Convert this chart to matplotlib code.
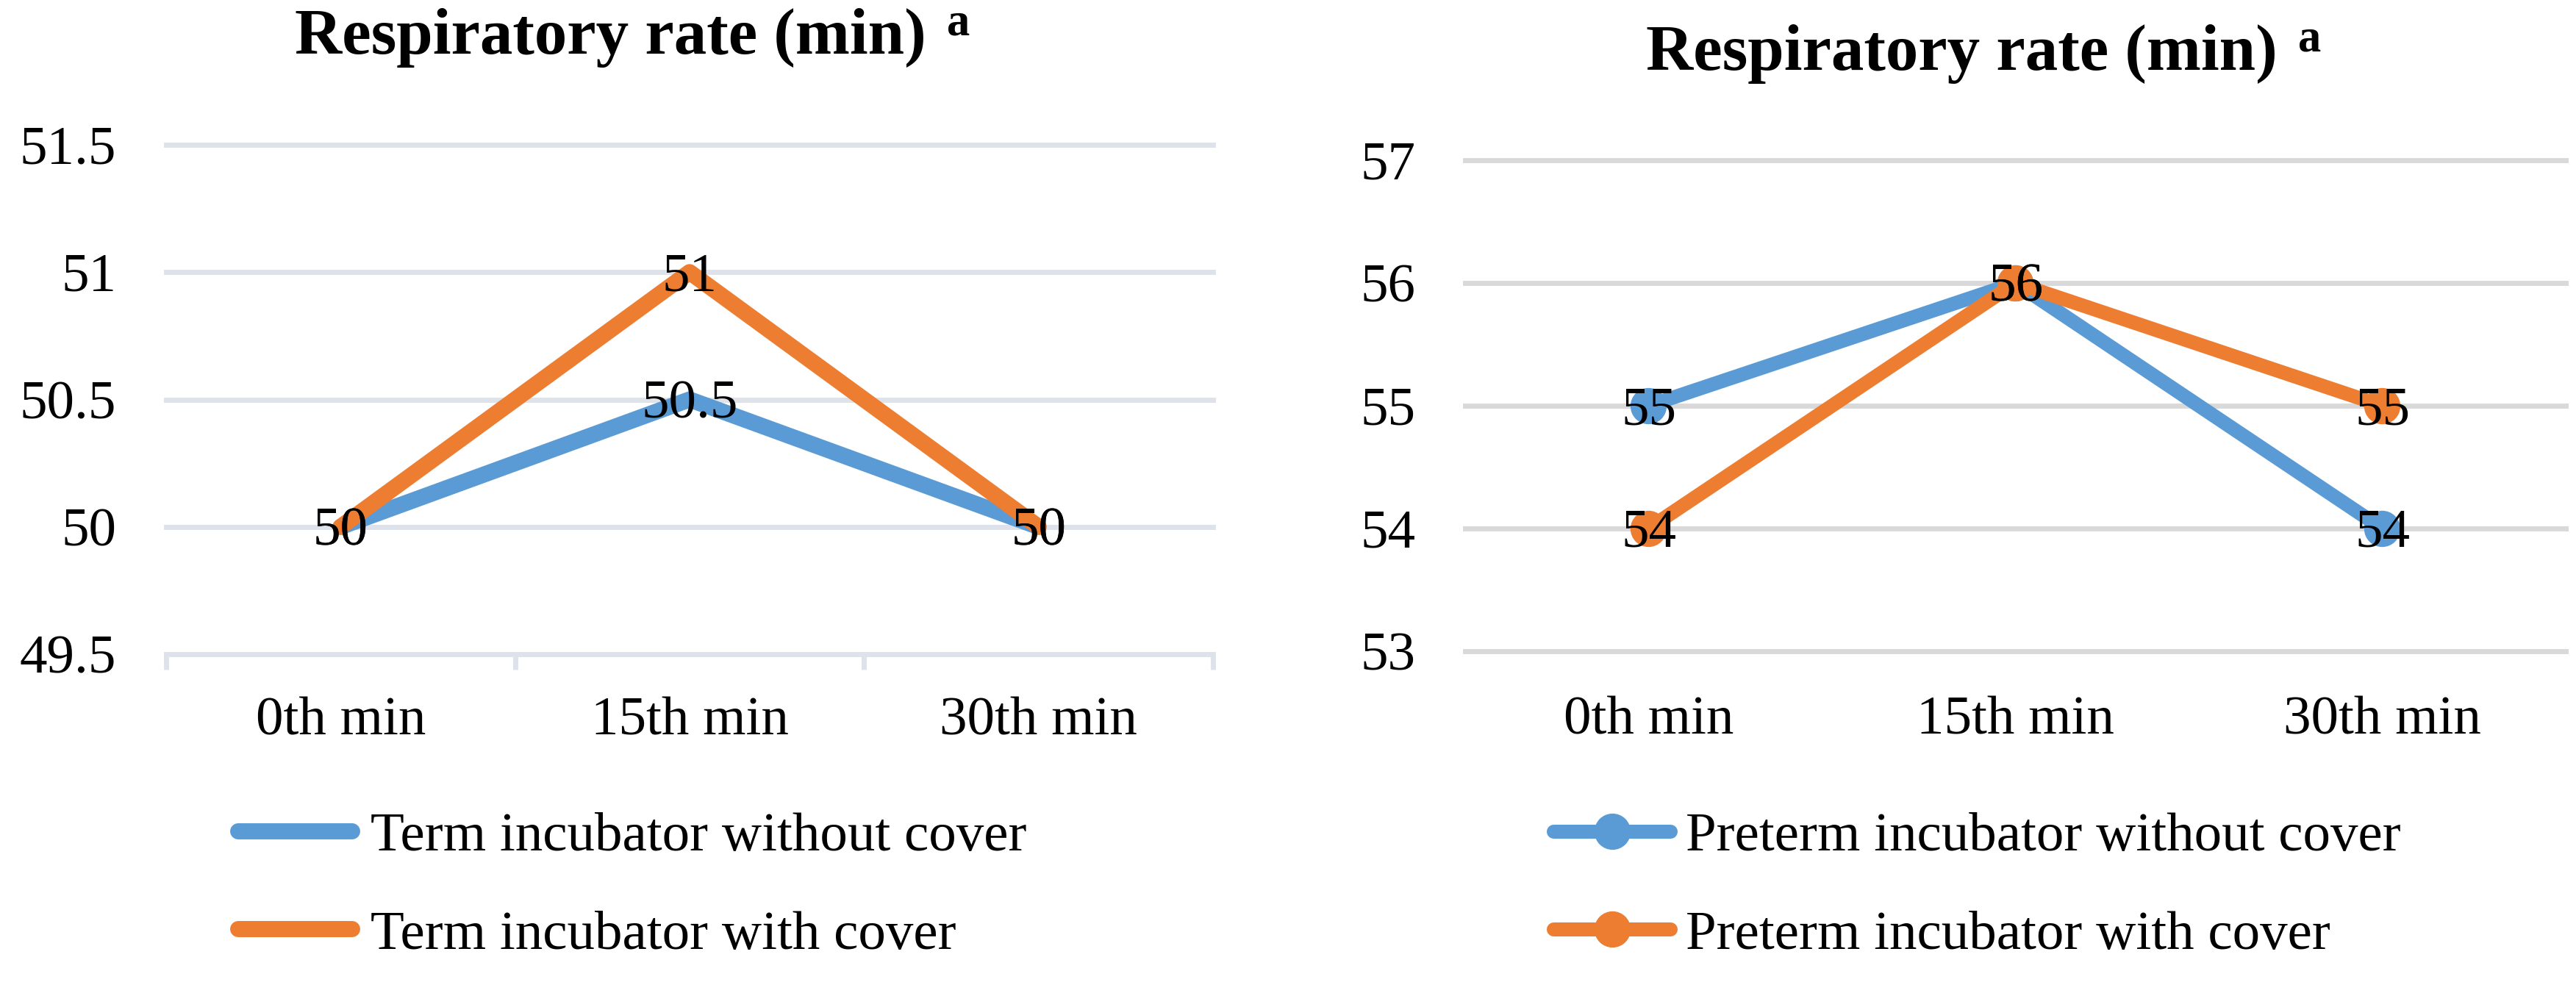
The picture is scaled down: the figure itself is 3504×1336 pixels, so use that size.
"""Respiratory rate of term and preterm babies, incubator with and without cover."""
import matplotlib.pyplot as plt
import numpy as np
from matplotlib.lines import Line2D

plt.rcParams["font.family"] = ["Liberation Serif", "DejaVu Serif"]

categories = ["0th min", "15th min", "30th min"]
term_without = [50, 50.5, 50]
term_with = [50, 51, 50]
preterm_without = [55, 56, 54]
preterm_with = [54, 56, 55]
term_yticks = [49.5, 50, 50.5, 51, 51.5]
preterm_yticks = [53, 54, 55, 56, 57]
term_labels = ["Term incubator without cover", "Term incubator with cover"]
preterm_labels = ["Preterm incubator without cover", "Preterm incubator with cover"]
title_text = "Respiratory rate (min)"

BLUE = "#5b9bd5"
ORANGE = "#ed7d31"
GRID_TERM = "#dee2ea"
GRID_PRETERM = "#d9d9d9"

W, H, DPI = 3505, 1336, 100
FS = 54

fig = plt.figure(figsize=(W / DPI, H / DPI), dpi=DPI)


def px_box(x0, y_top, x1, y_bottom):
    return [x0 / W, 1 - y_bottom / H, (x1 - x0) / W, (y_bottom - y_top) / H]


ax1 = fig.add_axes(px_box(226, 197, 1650, 890))
ax2 = fig.add_axes(px_box(1993, 218, 3490, 886))
x = np.arange(len(categories))


def style_axes(ax, yticks, grid_color, xpad):
    ax.set_xlim(-0.5, len(categories) - 0.5)
    ax.set_ylim(yticks[0], yticks[-1])
    ax.set_yticks(yticks)
    ax.set_yticklabels([f"{v:g}" for v in yticks])
    ax.set_xticks(x)
    ax.set_xticklabels(categories)
    ax.tick_params(axis="both", which="major", length=0, labelsize=FS)
    ax.tick_params(axis="y", pad=49)
    ax.tick_params(axis="x", pad=xpad)
    for s in ax.spines.values():
        s.set_visible(False)
    ax.grid(True, axis="y", color=grid_color, linewidth=5)
    ax.set_axisbelow(True)
    for gl in ax.get_ygridlines():
        gl.set_clip_on(False)


def label_points(ax, values):
    for xi, v in zip(x, values):
        ax.annotate(f"{v:g}", xy=(xi, v), xytext=(0, -25),
                    textcoords="offset pixels", ha="center", va="baseline",
                    fontsize=FS, zorder=6, annotation_clip=False)


# left panel: term babies
style_axes(ax1, term_yticks, GRID_TERM, 42)
ax1.spines["bottom"].set_visible(True)
ax1.spines["bottom"].set(color=GRID_TERM, linewidth=5)
ax1.set_xticks(np.arange(len(categories) + 1) - 0.5, minor=True)
ax1.tick_params(axis="x", which="minor", length=15, width=5,
                color=GRID_TERM, direction="out")
ax1.plot(x, term_without, color=BLUE, lw=15.8, solid_capstyle="round",
         solid_joinstyle="round", zorder=3)
ax1.plot(x, term_with, color=ORANGE, lw=15.8, solid_capstyle="round",
         solid_joinstyle="round", zorder=4)
label_points(ax1, term_without)
label_points(ax1, term_with)

# right panel: preterm babies
style_axes(ax2, preterm_yticks, GRID_PRETERM, 44)
ax2.plot(x, preterm_without, color=BLUE, lw=13.7, marker="o", ms=34.5,
         solid_capstyle="round", solid_joinstyle="round", zorder=3)
ax2.plot(x, preterm_with, color=ORANGE, lw=13.7, marker="o", ms=34.5,
         solid_capstyle="round", solid_joinstyle="round", zorder=4)
label_points(ax2, preterm_without)
label_points(ax2, preterm_with)


def add_legend(ax, labels, anchor_x, marker, hlen, hpad):
    handles = [
        Line2D([], [], color=c, lw=15.8 if marker is None else 13.7,
               marker=marker, ms=34.5, solid_capstyle="round")
        for c in (BLUE, ORANGE)
    ]
    ax.legend(handles, labels, loc="upper left",
              bbox_to_anchor=(anchor_x / W, 1 - 1105 / H),
              bbox_transform=fig.transFigure, frameon=False, borderpad=0,
              borderaxespad=0, handlelength=hlen, handletextpad=hpad,
              labelspacing=0.86, fontsize=FS, numpoints=1)


add_legend(ax1, term_labels, 324, None, 2.07, 0.33)
add_legend(ax2, preterm_labels, 2113, "o", 2.12, 0.28)


def add_title(cx, baseline):
    main = fig.text(0, 1 - baseline / H, title_text, fontsize=64,
                    fontweight="bold", va="baseline", ha="left")
    sup = fig.text(0, 1 - (baseline - 26) / H, "a", fontsize=45,
                   fontweight="bold", va="baseline", ha="left")
    r = fig.canvas.get_renderer()
    wm = main.get_window_extent(r).width
    ws = sup.get_window_extent(r).width
    gap = 28
    start = cx - (wm + gap + ws) / 2
    main.set_x(start / W)
    sup.set_x((start + wm + gap) / W)


add_title(860, 73)
add_title(2698, 95)

fig.savefig("out.png", dpi=DPI)
